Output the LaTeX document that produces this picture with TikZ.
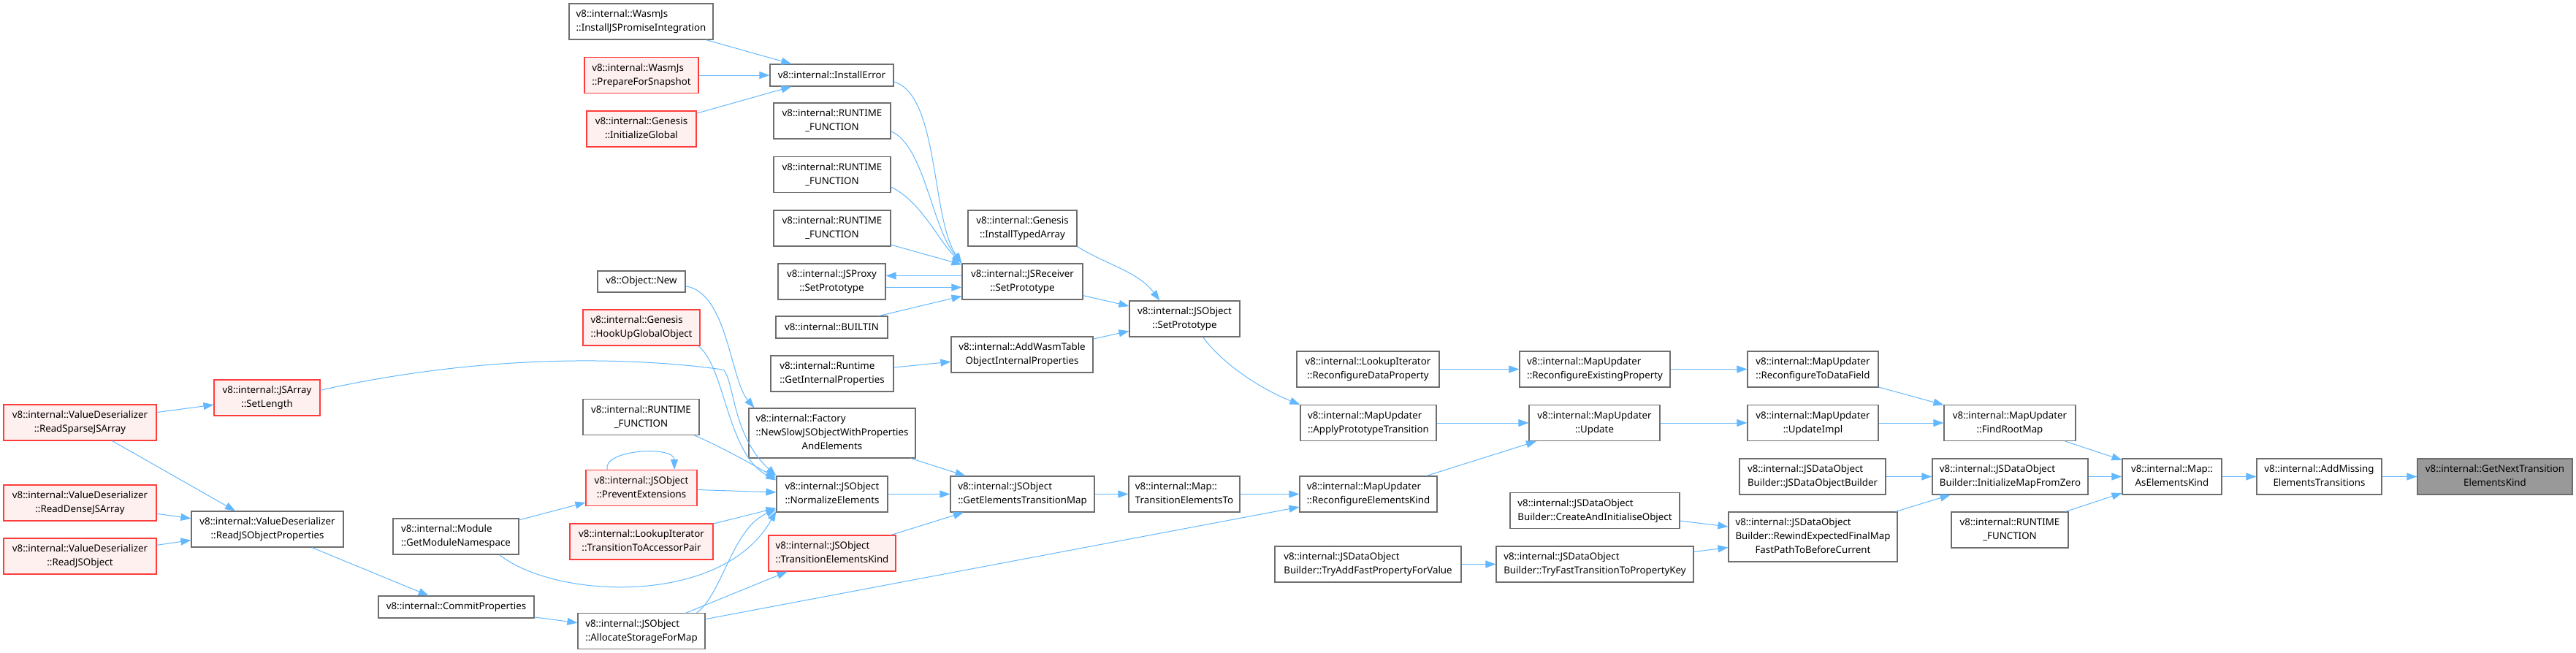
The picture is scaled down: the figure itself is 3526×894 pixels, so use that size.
\documentclass[tikz,border=0pt]{standalone}
\usepackage{fontspec}
\setmainfont{Noto Sans}
\usetikzlibrary{arrows.meta}
\definecolor{EdgeBlue}{RGB}{99,184,255}
\definecolor{BoxGrey}{RGB}{110,110,110}
\definecolor{TruncRed}{RGB}{255,60,60}
\definecolor{TruncFill}{RGB}{255,240,240}
\definecolor{FocusGrey}{RGB}{153,153,153}
\newcommand{\twolines}[2]{\begin{tabular}{@{}l@{}}#1\\\multicolumn{1}{@{}c@{}}{#2}\end{tabular}}
\newcommand{\threelines}[3]{\begin{tabular}{@{}l@{}}#1\\#2\\\multicolumn{1}{@{}c@{}}{#3}\end{tabular}}
\tikzset{
  callflow/.style={-{Triangle[length=14pt,width=10pt]},line width=1pt,draw=EdgeBlue},
  fnbox/.style={draw=BoxGrey,fill=white,line width=1.1pt,inner sep=0pt,
    align=center,font=\fontsize{13.3}{19}\selectfont},
  cutbox/.style={fnbox,draw=TruncRed,fill=TruncFill},
  focusbox/.style={fnbox,fill=FocusGrey},
  oneline/.style={minimum height=30pt},
  twoline/.style={minimum height=49pt},
  threeline/.style={minimum height=68pt}
}

\begin{document}
\begin{tikzpicture}[x=1pt,y=-1pt]
  \useasboundingbox (0,0) rectangle (3526,894);
  \node[fnbox,twoline,minimum width=197pt] (promInt) at (877.5,29.5) {\twolines{v8::internal::WasmJs}{::InstallJSPromiseIntegration}};
  \node[cutbox,twoline,minimum width=156pt] (prepSnap) at (878,103) {\twolines{v8::internal::WasmJs}{::PrepareForSnapshot}};
  \node[cutbox,twoline,minimum width=150pt] (initGlobal) at (878,176.5) {\twolines{v8::internal::Genesis}{::InitializeGlobal}};
  \node[fnbox,oneline,minimum width=169pt] (installErr) at (1138.5,103) {v8::internal::InstallError};
  \node[fnbox,twoline,minimum width=160pt] (rtA) at (1139,165.5) {\twolines{v8::internal::RUNTIME}{\_FUNCTION}};
  \node[fnbox,twoline,minimum width=160pt] (rtB) at (1139,239) {\twolines{v8::internal::RUNTIME}{\_FUNCTION}};
  \node[fnbox,twoline,minimum width=160pt] (rtC) at (1139,312.5) {\twolines{v8::internal::RUNTIME}{\_FUNCTION}};
  \node[fnbox,twoline,minimum width=147pt] (proxySet) at (1138.5,385.5) {\twolines{v8::internal::JSProxy}{::SetPrototype}};
  \node[fnbox,oneline,minimum width=153pt] (builtin) at (1138.5,448) {v8::internal::BUILTIN};
  \node[fnbox,twoline,minimum width=149pt] (typedArr) at (1399.5,312.5) {\twolines{v8::internal::Genesis}{::InstallTypedArray}};
  \node[fnbox,twoline,minimum width=165pt] (recvSet) at (1399.5,385.5) {\twolines{v8::internal::JSReceiver}{::SetPrototype}};
  \node[fnbox,twoline,minimum width=151pt] (objSet) at (1621.5,436.5) {\twolines{v8::internal::JSObject}{::SetPrototype}};
  \node[fnbox,twoline,minimum width=194pt] (wasmTable) at (1399,485.5) {\twolines{v8::internal::AddWasmTable}{ObjectInternalProperties}};
  \node[fnbox,twoline,minimum width=168pt] (rtProps) at (1139,511.5) {\twolines{v8::internal::Runtime}{::GetInternalProperties}};
  \node[fnbox,oneline,minimum width=120pt,minimum height=29pt] (objNew) at (878,385.5) {v8::Object::New};
  \node[cutbox,twoline,minimum width=160pt] (hookUp) at (878,448.5) {\twolines{v8::internal::Genesis}{::HookUpGlobalObject}};
  \node[fnbox,threeline,minimum width=228pt] (factory) at (1139,593) {\threelines{v8::internal::Factory}{::NewSlowJSObjectWithProperties}{AndElements}};
  \node[fnbox,twoline,minimum width=152pt] (normElem) at (1139,676.5) {\twolines{v8::internal::JSObject}{::NormalizeElements}};
  \node[cutbox,twoline,minimum width=174pt] (transKind) at (1139,757.5) {\twolines{v8::internal::JSObject}{::TransitionElementsKind}};
  \node[fnbox,twoline,minimum width=197pt] (getTrans) at (1399.5,676.5) {\twolines{v8::internal::JSObject}{::GetElementsTransitionMap}};
  \node[fnbox,twoline,minimum width=152pt] (transTo) at (1621,676.5) {\twolines{v8::internal::Map::}{TransitionElementsTo}};
  \node[fnbox,twoline,minimum width=159pt] (rtLeft) at (877.5,571) {\twolines{v8::internal::RUNTIME}{\_FUNCTION}};
  \node[cutbox,twoline,minimum width=152pt] (prevExt) at (878,668) {\twolines{v8::internal::JSObject}{::PreventExtensions}};
  \node[cutbox,twoline,minimum width=196pt] (accPair) at (878,741.5) {\twolines{v8::internal::LookupIterator}{::TransitionToAccessorPair}};
  \node[fnbox,twoline,minimum width=174pt] (allocStor) at (878,864) {\twolines{v8::internal::JSObject}{::AllocateStorageForMap}};
  \node[cutbox,twoline,minimum width=145pt] (setLen) at (365.5,544.5) {\twolines{v8::internal::JSArray}{::SetLength}};
  \node[cutbox,twoline,minimum width=209pt] (readSparse) at (109.5,578.5) {\twolines{v8::internal::ValueDeserializer}{::ReadSparseJSArray}};
  \node[cutbox,twoline,minimum width=209pt] (readDense) at (109.5,688.5) {\twolines{v8::internal::ValueDeserializer}{::ReadDenseJSArray}};
  \node[cutbox,twoline,minimum width=209pt] (readObj) at (109.5,761.5) {\twolines{v8::internal::ValueDeserializer}{::ReadJSObject}};
  \node[fnbox,twoline,minimum width=208pt] (readProps) at (366,724.5) {\twolines{v8::internal::ValueDeserializer}{::ReadJSObjectProperties}};
  \node[fnbox,twoline,minimum width=172pt] (modNs) at (624,734.5) {\twolines{v8::internal::Module}{::GetModuleNamespace}};
  \node[fnbox,oneline,minimum width=213pt] (commit) at (624.5,831) {v8::internal::CommitProperties};
  \node[fnbox,twoline,minimum width=195pt] (lookupReconf) at (1872.5,505.5) {\twolines{v8::internal::LookupIterator}{::ReconfigureDataProperty}};
  \node[fnbox,twoline,minimum width=206pt] (reconfExist) at (2183,505.5) {\twolines{v8::internal::MapUpdater}{::ReconfigureExistingProperty}};
  \node[fnbox,twoline,minimum width=179pt] (reconfData) at (2481.5,505.5) {\twolines{v8::internal::MapUpdater}{::ReconfigureToDataField}};
  \node[fnbox,twoline,minimum width=186pt] (applyProto) at (1873,579) {\twolines{v8::internal::MapUpdater}{::ApplyPrototypeTransition}};
  \node[fnbox,twoline,minimum width=179pt] (update) at (2182.5,579) {\twolines{v8::internal::MapUpdater}{::Update}};
  \node[fnbox,twoline,minimum width=179pt] (updateImpl) at (2481.5,579) {\twolines{v8::internal::MapUpdater}{::UpdateImpl}};
  \node[fnbox,twoline,minimum width=200pt] (dataBuilder) at (2481,652.5) {\twolines{v8::internal::JSDataObject}{Builder::JSDataObjectBuilder}};
  \node[fnbox,twoline,minimum width=188pt] (reconfKind) at (1873,676.5) {\twolines{v8::internal::MapUpdater}{::ReconfigureElementsKind}};
  \node[fnbox,twoline,minimum width=232pt] (createInit) at (2183,699) {\twolines{v8::internal::JSDataObject}{Builder::CreateAndInitialiseObject}};
  \node[fnbox,threeline,minimum width=231pt] (rewind) at (2481.5,735) {\threelines{v8::internal::JSDataObject}{Builder::RewindExpectedFinalMap}{FastPathToBeforeCurrent}};
  \node[fnbox,twoline,minimum width=255pt] (tryAdd) at (1872.5,772.5) {\twolines{v8::internal::JSDataObject}{Builder::TryAddFastPropertyForValue}};
  \node[fnbox,twoline,minimum width=270pt] (tryFast) at (2183,772.5) {\twolines{v8::internal::JSDataObject}{Builder::TryFastTransitionToPropertyKey}};
  \node[fnbox,twoline,minimum width=180pt] (findRoot) at (2751,579) {\twolines{v8::internal::MapUpdater}{::FindRootMap}};
  \node[fnbox,twoline,minimum width=213pt] (initMap) at (2751.5,652.5) {\twolines{v8::internal::JSDataObject}{Builder::InitializeMapFromZero}};
  \node[fnbox,twoline,minimum width=160pt] (rtRight) at (2751,725.5) {\twolines{v8::internal::RUNTIME}{\_FUNCTION}};
  \node[fnbox,twoline,minimum width=136pt] (asKind) at (2973,652.5) {\twolines{v8::internal::Map::}{AsElementsKind}};
  \node[fnbox,twoline,minimum width=171pt] (addMissing) at (3174.5,652.5) {\twolines{v8::internal::AddMissing}{ElementsTransitions}};
  \node[focusbox,twoline,minimum width=212pt] (nextKind) at (3415,652.5) {\twolines{v8::internal::GetNextTransition}{ElementsKind}};

  \draw[callflow] (promInt) -- (installErr);
  \draw[callflow] (prepSnap) -- (installErr);
  \draw[callflow] (initGlobal) -- (installErr);
  \draw[callflow] (installErr.-6) .. controls +(62,18) and +(-42,-61) .. (recvSet.north west);
  \draw[callflow] (rtA.-10) .. controls +(46,20) and +(-42,-51) .. (recvSet.north west);
  \draw[callflow] (rtB.-12) .. controls +(41,19) and +(-32,-31) .. (recvSet.north west);
  \draw[callflow] (rtC) -- (recvSet);
  \draw[callflow] ([yshift=-8pt]proxySet.east) -- ([yshift=-8pt]recvSet.west);
  \draw[callflow] ([yshift=8pt]recvSet.west) -- ([yshift=8pt]proxySet.east);
  \draw[callflow] (builtin) -- (recvSet);
  \draw[callflow] (typedArr.south east) .. controls +(40,25) and +(-30,-40) .. ([xshift=42pt]objSet.north west);
  \draw[callflow] (recvSet) -- (objSet);
  \draw[callflow] (wasmTable) -- (objSet);
  \draw[callflow] (rtProps) -- (wasmTable);
  \draw[callflow] ([xshift=25pt]objSet.south) .. controls +(30,40) and +(-50,-20) .. (applyProto.north west);
  \draw[callflow] (applyProto) -- (update);
  \draw[callflow] (reconfKind) -- (update);
  \draw[callflow] (update) -- (updateImpl);
  \draw[callflow] (updateImpl) -- (findRoot);
  \draw[callflow] (lookupReconf) -- (reconfExist);
  \draw[callflow] (reconfExist) -- (reconfData);
  \draw[callflow] (reconfData) -- (findRoot);
  \draw[callflow] (findRoot) -- (asKind);
  \draw[callflow] (dataBuilder) -- (initMap);
  \draw[callflow] (rewind) -- (initMap);
  \draw[callflow] (initMap) -- (asKind);
  \draw[callflow] (rtRight) -- (asKind);
  \draw[callflow] (createInit) -- (rewind);
  \draw[callflow] (tryFast) -- (rewind);
  \draw[callflow] (tryAdd) -- (tryFast);
  \draw[callflow] (asKind) -- (addMissing);
  \draw[callflow] (addMissing) -- (nextKind);
  \draw[callflow] (transTo) -- (reconfKind);
  \draw[callflow] (allocStor) -- (reconfKind);
  \draw[callflow] (getTrans) -- (transTo);
  \draw[callflow] (normElem) -- (getTrans);
  \draw[callflow] (factory) -- (getTrans);
  \draw[callflow] (transKind) -- (getTrans);
  \draw[callflow] (allocStor) -- (transKind);
  \draw[callflow] ([xshift=-12pt]allocStor.north east) .. controls +(35,-25) and +(-60,25) .. ([yshift=4pt]normElem.south west);
  \draw[callflow] (objNew.-6) .. controls +(57,8) and +(-33,-39) .. ([xshift=8pt]factory.north west);
  \draw[callflow] ([xshift=-3pt]hookUp.south east) .. controls +(37,27) and +(-68,-36) .. ([yshift=-6pt]normElem.north west);
  \draw[callflow] (setLen.8) .. controls +(270,-60) and +(-70,-10) .. ++(552,-28) .. controls +(15,18) and +(-60,-55) .. (normElem.north west);
  \draw[callflow] ([xshift=-7pt]rtLeft.south east) .. controls +(35,15) and +(-35,-20) .. ([yshift=-3pt]normElem.north west);
  \draw[callflow] (prevExt) -- (normElem);
  \draw[callflow] ([xshift=-47pt]prevExt.north) .. controls +(-6,-28) and +(0,-33) .. ([xshift=45pt]prevExt.north);
  \draw[callflow] (accPair) -- (normElem);
  \draw[callflow] (modNs) -- (prevExt);
  \draw[callflow] ([xshift=-27pt]modNs.south east) .. controls +(77,61) and +(-73,131) .. ([yshift=2pt]normElem.south west);
  \draw[callflow] (readSparse) -- (setLen);
  \draw[callflow] (readSparse) -- (readProps);
  \draw[callflow] (readDense) -- (readProps);
  \draw[callflow] (readObj) -- (readProps);
  \draw[callflow] (readProps) -- (commit);
  \draw[callflow] (commit) -- (allocStor);
\end{tikzpicture}
\end{document}
